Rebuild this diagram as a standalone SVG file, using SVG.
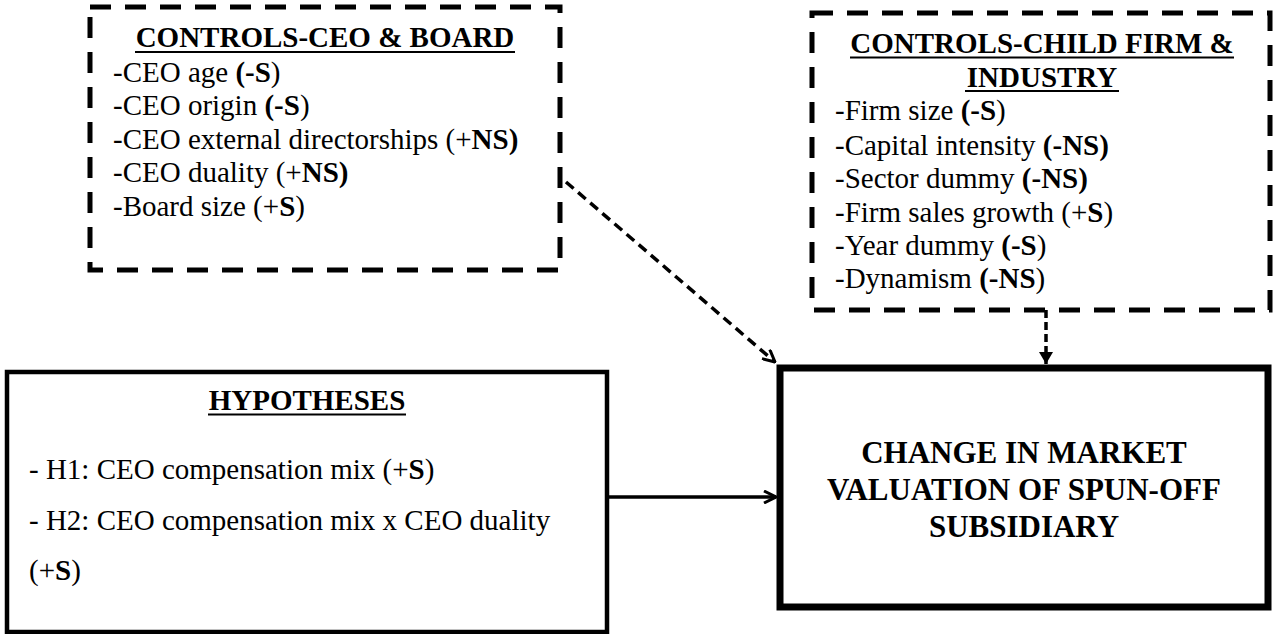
<svg xmlns="http://www.w3.org/2000/svg" width="1274" height="634" viewBox="0 0 1274 634" font-family="'Liberation Serif', 'Times New Roman', serif">
<defs>
<style>
.t{font-family:"Liberation Serif","Times New Roman",serif;font-size:29px;fill:#000}
.b{font-weight:bold}
.dash{fill:none;stroke:#000;stroke-width:5;stroke-dasharray:21 14}
.solid{fill:none;stroke:#000}
.ul{stroke:#000;stroke-width:2}
.conn{fill:none;stroke:#000;stroke-width:3.5}
</style>
<marker id="open" viewBox="0 0 14 14" refX="13" refY="7" markerWidth="14" markerHeight="14" markerUnits="userSpaceOnUse" orient="auto">
<path d="M1,1 L13,7 L1,13" fill="none" stroke="#000" stroke-width="3"/>
</marker>
<marker id="tri" viewBox="0 0 12 14" refX="12" refY="7" markerWidth="14" markerHeight="14" markerUnits="userSpaceOnUse" orient="auto">
<path d="M0,0 L12,7 L0,14 Z" fill="#000"/>
</marker>
</defs>
<rect width="1274" height="634" fill="#fff"/>
<g id="controls-ceo-board">
<rect class="dash" x="90" y="7" width="470" height="263"/>
<text class="t b" x="325" y="47" text-anchor="middle">CONTROLS-CEO &amp; BOARD</text>
<line class="ul" x1="135" y1="52" x2="515" y2="52"/>
<text class="t" x="113" y="81.5">-CEO age <tspan class="b">(-S</tspan>)</text>
<text class="t" x="113" y="115">-CEO origin <tspan class="b">(-S</tspan>)</text>
<text class="t" x="113" y="148.5">-CEO external directorships (+<tspan class="b">NS)</tspan></text>
<text class="t" x="113" y="182">-CEO duality (+<tspan class="b">NS)</tspan></text>
<text class="t" x="113" y="215.5">-Board size (+<tspan class="b">S</tspan>)</text>
</g>
<g id="controls-child-firm">
<rect class="dash" x="812" y="13" width="458" height="297"/>
<text class="t b" x="1042" y="53" text-anchor="middle">CONTROLS-CHILD FIRM &amp;</text>
<line class="ul" x1="850" y1="57.5" x2="1234" y2="57.5"/>
<text class="t b" x="1042" y="87" text-anchor="middle">INDUSTRY</text>
<line class="ul" x1="965" y1="91" x2="1119" y2="91"/>
<text class="t" x="835" y="120">-Firm size <tspan class="b">(-S</tspan>)</text>
<text class="t" x="835" y="155">-Capital intensity <tspan class="b">(-NS)</tspan></text>
<text class="t" x="835" y="188">-Sector dummy <tspan class="b">(-NS)</tspan></text>
<text class="t" x="835" y="222">-Firm sales growth (+<tspan class="b">S</tspan>)</text>
<text class="t" x="835" y="255">-Year dummy <tspan class="b">(-S</tspan>)</text>
<text class="t" x="835" y="288">-Dynamism <tspan class="b">(-NS</tspan>)</text>
</g>
<g id="hypotheses">
<rect class="solid" x="7" y="372" width="600" height="260" stroke-width="4.5"/>
<text class="t b" x="307" y="410" text-anchor="middle">HYPOTHESES</text>
<line class="ul" x1="208" y1="414.5" x2="406" y2="414.5"/>
<text class="t" x="29" y="479">- H1: CEO compensation mix (+<tspan class="b">S</tspan>)</text>
<text class="t" x="29" y="530">- H2: CEO compensation mix x CEO duality</text>
<text class="t" x="29" y="580">(+<tspan class="b">S</tspan>)</text>
</g>
<g id="outcome">
<rect class="solid" x="780" y="368" width="488" height="239" stroke-width="7"/>
<text class="t b" x="1024" y="463" text-anchor="middle" style="font-size:31px">CHANGE IN MARKET</text>
<text class="t b" x="1024" y="500" text-anchor="middle" style="font-size:31px">VALUATION OF SPUN-OFF</text>
<text class="t b" x="1024" y="537" text-anchor="middle" style="font-size:31px">SUBSIDIARY</text>
</g>
<g id="connectors">
<line class="conn" x1="566" y1="182" x2="775" y2="362" stroke-dasharray="10 6" marker-end="url(#open)"/>
<line class="conn" x1="1046" y1="310" x2="1046" y2="364" stroke-dasharray="8 4" marker-end="url(#tri)"/>
<line class="conn" x1="607" y1="497" x2="776" y2="497" stroke-width="3" marker-end="url(#open)"/>
</g>
</svg>
